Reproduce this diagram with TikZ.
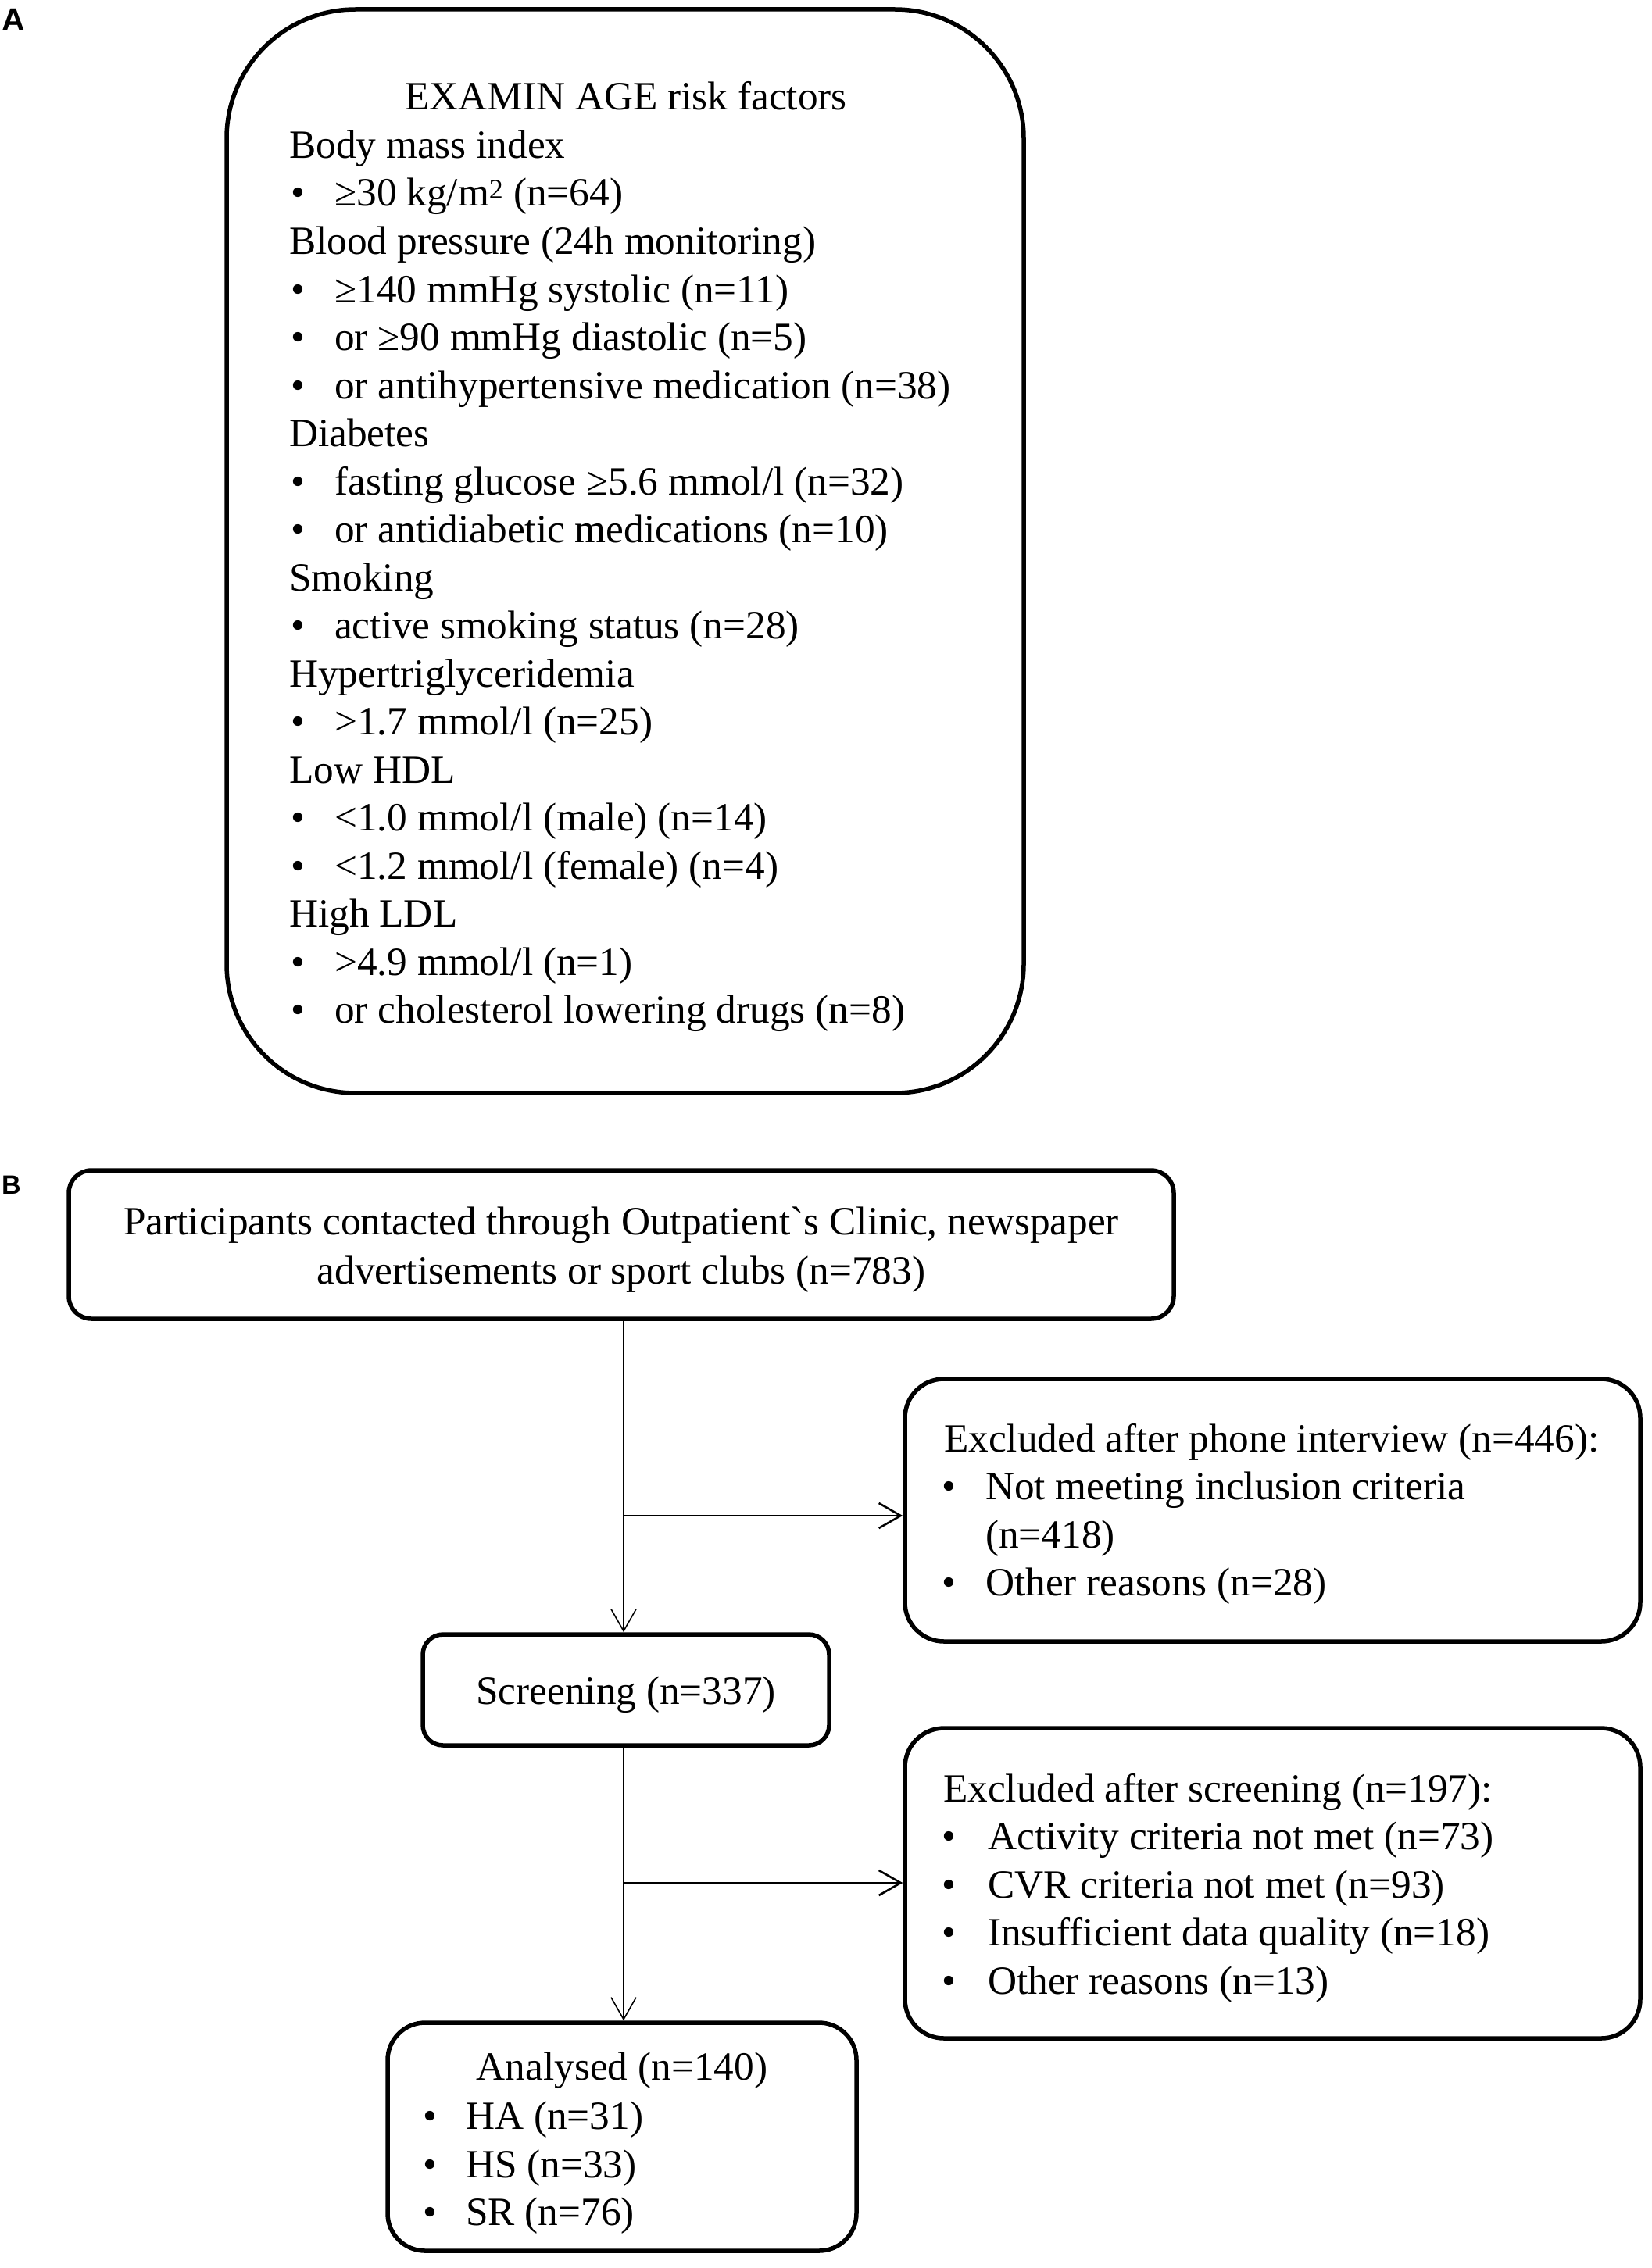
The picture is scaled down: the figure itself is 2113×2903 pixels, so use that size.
\documentclass[tikz,border=0pt]{standalone}
\usepackage{fontspec}
\setmainfont{Liberation Serif}
\newfontfamily\labelfont{Liberation Sans}
\usetikzlibrary{arrows.meta}
\newcommand{\gravechar}{\XeTeXglyph\XeTeXcharglyph"60\relax}
\begin{document}
\begin{tikzpicture}[x=1pt,y=-1pt,
  box/.style={draw, line width=5.5pt, inner sep=0pt},
  txt/.style={inner sep=0pt, anchor=base west, font=\fontsize{51.3}{61.6}\selectfont},
  ctxt/.style={txt, anchor=base},
  vline/.style={line width=1.6pt, -{Straight Barb[length=28pt,width=32pt]}},
  hline/.style={line width=2.6pt, -{Straight Barb[length=28pt,width=32pt]}},
  panel/.style={inner sep=0pt, anchor=base west, font=\labelfont\bfseries\fontsize{41}{44}\selectfont}]
\useasboundingbox (0,0) rectangle (2113,2903);

% panel labels
\node[panel] (lblA) at (2,40) {A};
\node[panel, font=\labelfont\bfseries\fontsize{34}{38}\selectfont] (lblB) at (2,1528) {B};

% ---------- Panel A ----------
\node[box, rounded corners=165pt, minimum width=1020pt, minimum height=1387pt] (boxA) at (800,705.5) {};
\node[ctxt] (a0) at (801,141) {EXAMIN AGE risk factors};
\node[txt] (a1) at (370,202.5) {Body mass index};
\node[txt] (a2b) at (372,264) {•};
\node[txt] (a2) at (428,264) {≥30 kg/m\textsuperscript{2} (n=64)};
\node[txt] (a3) at (370,325.5) {Blood pressure (24h monitoring)};
\node[txt] (a4b) at (372,387) {•};
\node[txt] (a4) at (428,387) {≥140 mmHg systolic (n=11)};
\node[txt] (a5b) at (372,448.5) {•};
\node[txt] (a5) at (428,448.5) {or ≥90 mmHg diastolic (n=5)};
\node[txt] (a6b) at (372,510) {•};
\node[txt] (a6) at (428,510) {or antihypertensive medication (n=38)};
\node[txt] (a7) at (370,571.5) {Diabetes};
\node[txt] (a8b) at (372,633) {•};
\node[txt] (a8) at (428,633) {fasting glucose ≥5.6 mmol/l (n=32)};
\node[txt] (a9b) at (372,694.5) {•};
\node[txt] (a9) at (428,694.5) {or antidiabetic medications (n=10)};
\node[txt] (a10) at (370,756) {Smoking};
\node[txt] (a11b) at (372,817.5) {•};
\node[txt] (a11) at (428,817.5) {active smoking status (n=28)};
\node[txt] (a12) at (370,879) {Hypertriglyceridemia};
\node[txt] (a13b) at (372,940.5) {•};
\node[txt] (a13) at (428,940.5) {>1.7 mmol/l (n=25)};
\node[txt] (a14) at (370,1002) {Low HDL};
\node[txt] (a15b) at (372,1063.5) {•};
\node[txt] (a15) at (428,1063.5) {<1.0 mmol/l (male) (n=14)};
\node[txt] (a16b) at (372,1125) {•};
\node[txt] (a16) at (428,1125) {<1.2 mmol/l (female) (n=4)};
\node[txt] (a17) at (370,1186.5) {High LDL};
\node[txt] (a18b) at (372,1248) {•};
\node[txt] (a18) at (428,1248) {>4.9 mmol/l (n=1)};
\node[txt] (a19b) at (372,1309.5) {•};
\node[txt] (a19) at (428,1309.5) {or cholesterol lowering drugs (n=8)};

% ---------- Panel B ----------
\node[box, rounded corners=29pt, minimum width=1414pt, minimum height=190pt] (b1) at (795,1593) {};
\node[ctxt] (b1l1) at (795,1580) {Participants contacted through Outpatient\gravechar s Clinic, newspaper};
\node[ctxt] (b1l2) at (795,1643) {advertisements or sport clubs (n=783)};

\node[box, rounded corners=50pt, minimum width=941pt, minimum height=336pt] (ex1) at (1628.5,1933) {};
\node[txt] (ex1l1) at (1208,1858) {Excluded after phone interview (n=446):};
\node[txt] (ex1b1) at (1205,1919.5) {•};
\node[txt] (ex1l2) at (1261,1919.5) {Not meeting inclusion criteria};
\node[txt] (ex1l3) at (1261,1981) {(n=418)};
\node[txt] (ex1b2) at (1205,2042.5) {•};
\node[txt] (ex1l4) at (1261,2042.5) {Other reasons (n=28)};

\node[box, rounded corners=26pt, minimum width=520pt, minimum height=142pt] (scr) at (801,2163) {};
\node[ctxt] (scrl) at (801,2181) {Screening (n=337)};

\node[box, rounded corners=50pt, minimum width=941pt, minimum height=397pt] (ex2) at (1628.5,2410.5) {};
\node[txt] (ex2l1) at (1207,2306) {Excluded after screening (n=197):};
\node[txt] (ex2b1) at (1205,2367.5) {•};
\node[txt] (ex2l2) at (1264,2367.5) {Activity criteria not met (n=73)};
\node[txt] (ex2b2) at (1205,2429) {•};
\node[txt] (ex2l3) at (1264,2429) {CVR criteria not met (n=93)};
\node[txt] (ex2b3) at (1205,2490.5) {•};
\node[txt] (ex2l4) at (1264,2490.5) {Insufficient data quality (n=18)};
\node[txt] (ex2b4) at (1205,2552) {•};
\node[txt] (ex2l5) at (1264,2552) {Other reasons (n=13)};

\node[box, rounded corners=48pt, minimum width=600pt, minimum height=292pt] (an) at (796,2735) {};
\node[ctxt] (anl1) at (796,2662) {Analysed (n=140)};
\node[txt] (anb1) at (541,2725) {•};
\node[txt] (anl2) at (596,2725) {HA (n=31)};
\node[txt] (anb2) at (541,2787) {•};
\node[txt] (anl3) at (596,2787) {HS (n=33)};
\node[txt] (anb3) at (541,2848) {•};
\node[txt] (anl4) at (596,2848) {SR (n=76)};

% connectors
\coordinate (j1) at (798,1940);
\coordinate (j2) at (798,2410);
\draw[vline] (b1.south -| j1) -- (scr.north -| j1);
\draw[hline] (j1) -- (j1 -| ex1.west);
\draw[vline] (scr.south -| j1) -- (an.north -| j1);
\draw[hline] (j2) -- (j2 -| ex2.west);
\end{tikzpicture}
\end{document}
